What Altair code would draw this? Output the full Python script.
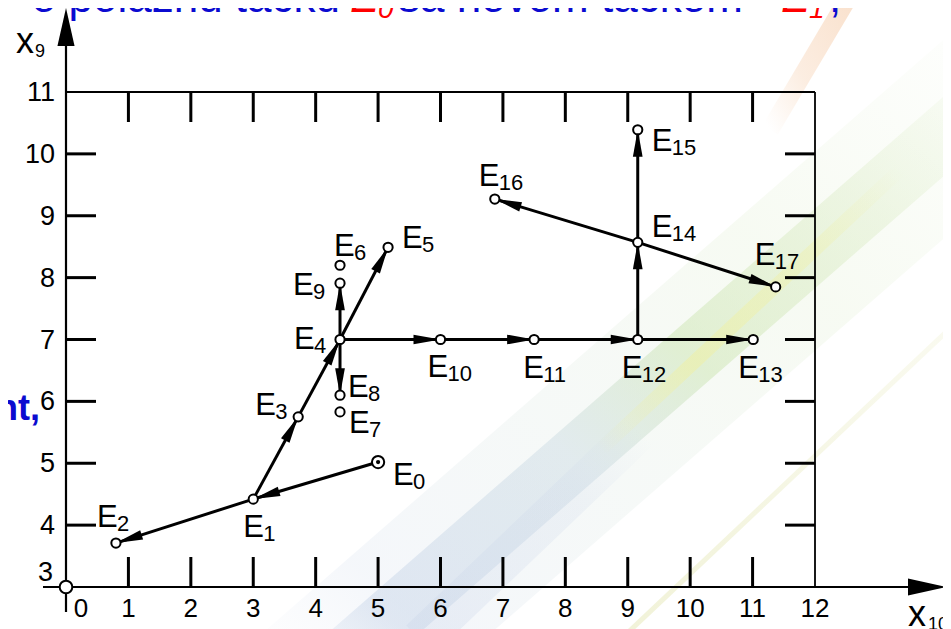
import altair as alt
import pandas as pd

# ---------------- data ----------------
point_names = ["E0", "E1", "E2", "E3", "E4", "E5", "E6", "E7", "E8", "E9",
               "E10", "E11", "E12", "E13", "E14", "E15", "E16", "E17"]
point_sub = ["0", "1", "2", "3", "4", "5", "6", "7", "8", "9",
             "10", "11", "12", "13", "14", "15", "16", "17"]
point_x = [5.0, 3.0, 0.80, 3.72, 4.39, 5.16, 4.39, 4.39, 4.39, 4.39,
           6.0, 7.50, 9.16, 11.01, 9.16, 9.16, 6.87, 11.37]
point_y = [5.02, 4.42, 3.71, 5.75, 7.0, 8.49, 8.20, 5.83, 6.10, 7.91,
           7.0, 7.0, 7.0, 7.0, 8.57, 10.39, 9.27, 7.85]

edge_from = [0, 1, 1, 3, 4, 4, 4, 4, 10, 11, 12, 12, 14, 14, 14]
edge_to = [1, 2, 3, 4, 5, 9, 8, 10, 11, 12, 13, 14, 15, 16, 17]

x_tick_marks = [1, 2, 3, 4, 5, 6, 7, 8, 9, 10, 11]
y_tick_marks = [4, 5, 6, 7, 8, 9, 10]
x_tick_labels = [1, 2, 3, 4, 5, 6, 7, 8, 9, 10, 11, 12]
y_tick_labels = [4, 5, 6, 7, 8, 9, 10, 11]

# label placement (pixels, relative to the point: left edge / baseline of "E")
label_dx = [15, -10, -19, -43, -46, 14, -6, 9, 8, -47, -13, -11, -16, -15, 14, 14, -16, -21]
label_dy = [23, 38, -16, -2, 9, 1, -9, 21, 2, 12, 37, 38, 38, 38, -5, 21, -13, -22]

# ---------------- geometry / style ----------------
W, H = 749, 495
XMIN, XMAX, YMIN, YMAX = 0, 12, 3, 11
FONT = "Liberation Sans"
BLUE = "#0b0bd0"
RED = "#ff0000"
HEAD = "M0,0L0.36,2L-0.36,2Z"
AXHEAD = "M0,0L0.45,2L-0.45,2Z"

xs = alt.Scale(domain=[XMIN, XMAX], nice=False, zero=False)
ys = alt.Scale(domain=[YMIN, YMAX], nice=False, zero=False)


def X(f):
    return alt.X(f, type="quantitative", scale=xs, axis=None)


def Y(f):
    return alt.Y(f, type="quantitative", scale=ys, axis=None)


one = pd.DataFrame({"a": [0]})

pts = pd.DataFrame({"name": point_names, "sub": point_sub, "x": point_x, "y": point_y,
                    "ox": label_dx, "oy": label_dy})
edges = pd.DataFrame({
    "x": [point_x[i] for i in edge_from], "y": [point_y[i] for i in edge_from],
    "x2": [point_x[i] for i in edge_to], "y2": [point_y[i] for i in edge_to],
})

layers = []


# soft background streaks of the slide (decoration), faded with gradients
def gstreak(x1, y1, x2, y2, w, stops, up=True):
    if up:
        g = alt.LinearGradient(gradient="linear", x1=0, y1=1, x2=1, y2=0,
                               stops=[alt.GradientStop(offset=o, color=c) for o, c in stops])
    else:
        g = alt.LinearGradient(gradient="linear", x1=1, y1=0, x2=0, y2=1,
                               stops=[alt.GradientStop(offset=o, color=c) for o, c in stops])
    return alt.Chart(one).mark_rule(strokeWidth=w, stroke=g).encode(
        x=alt.value(x1), y=alt.value(y1), x2=alt.value(x2), y2=alt.value(y2))


layers += [
    gstreak(234, 608, 934, -2, 150, [
        (0.0, "rgba(190,205,228,0)"), (0.15, "rgba(190,205,228,0.16)"),
        (0.45, "rgba(200,220,205,0.16)"), (0.7, "rgba(205,228,178,0.16)"),
        (1.0, "rgba(205,228,178,0.04)")]),
    gstreak(240, 600, 940, -10, 60, [
        (0.0, "rgba(182,200,226,0)"), (0.12, "rgba(182,200,226,0.35)"),
        (0.38, "rgba(188,208,220,0.35)"), (0.55, "rgba(198,226,168,0.45)"),
        (0.8, "rgba(205,228,175,0.28)"), (1.0, "rgba(215,235,190,0.08)")]),
    gstreak(354, 548, 574, 338, 40, [
        (0.0, "rgba(200,212,232,0.30)"), (0.7, "rgba(200,212,232,0.20)"),
        (1.0, "rgba(200,212,232,0)")]),
    gstreak(534, 358, 834, 78, 14, [
        (0.0, "rgba(240,240,160,0)"), (0.3, "rgba(240,240,160,0.5)"),
        (0.7, "rgba(240,240,160,0.35)"), (1.0, "rgba(240,240,160,0)")]),
    gstreak(554, 548, 914, 208, 5, [
        (0.0, "rgba(232,234,190,0.6)"), (1.0, "rgba(232,234,190,0.2)")]),
    gstreak(784, -97, 704, 38, 18, [
        (0.0, "rgba(244,196,156,0.5)"), (0.6, "rgba(244,196,156,0.3)"),
        (1.0, "rgba(244,196,156,0)")], up=False),
]

# frame: top and right lines
layers.append(alt.Chart(one).mark_rule(strokeWidth=1.8, color="black").encode(
    x=alt.value(0), x2=alt.value(W), y=alt.value(0)))
layers.append(alt.Chart(one).mark_rule(strokeWidth=1.8, color="black").encode(
    x=alt.value(W), y=alt.value(0), y2=alt.value(H)))

# ticks
xt = pd.DataFrame({"v": x_tick_marks})
yt = pd.DataFrame({"v": y_tick_marks})
layers.append(alt.Chart(xt).mark_rule(strokeWidth=3, color="black").encode(
    x=X("v"), y=alt.value(H), y2=alt.value(H - 30)))
layers.append(alt.Chart(xt).mark_rule(strokeWidth=3, color="black").encode(
    x=X("v"), y=alt.value(0), y2=alt.value(30)))
layers.append(alt.Chart(yt).mark_rule(strokeWidth=3, color="black").encode(
    y=Y("v"), x=alt.value(0), x2=alt.value(30)))
layers.append(alt.Chart(yt).mark_rule(strokeWidth=3, color="black").encode(
    y=Y("v"), x=alt.value(W), x2=alt.value(W - 30)))

# axes lines with arrows
layers.append(alt.Chart(one).mark_rule(strokeWidth=2.2, color="black").encode(
    x=alt.value(0), y=alt.value(-60), y2=alt.value(520)))
layers.append(alt.Chart(one).mark_rule(strokeWidth=2.2, color="black").encode(
    y=alt.value(H), x=alt.value(-23), x2=alt.value(860)))
layers.append(alt.Chart(one).mark_point(shape=AXHEAD, filled=True, size=1444, color="black",
                                        opacity=1, strokeWidth=0).encode(
    x=alt.value(0), y=alt.value(-84), angle=alt.value(0)))
layers.append(alt.Chart(one).mark_point(shape=AXHEAD, filled=True, size=1444, color="black",
                                        opacity=1, strokeWidth=0).encode(
    x=alt.value(880), y=alt.value(H), angle=alt.value(90)))

# tick labels
layers.append(alt.Chart(pd.DataFrame({"v": x_tick_labels})).mark_text(
    font=FONT, fontSize=26, align="center", baseline="alphabetic", color="black").encode(
    x=X("v"), y=alt.value(525), text="v:N"))
layers.append(alt.Chart(pd.DataFrame({"v": [0]})).mark_text(
    font=FONT, fontSize=26, align="center", baseline="alphabetic", color="black", dx=15).encode(
    x=X("v"), y=alt.value(525), text="v:N"))
layers.append(alt.Chart(pd.DataFrame({"v": y_tick_labels})).mark_text(
    font=FONT, fontSize=27, align="right", baseline="middle", color="black", dy=1).encode(
    x=alt.value(-11), y=Y("v"), text="v:N"))
layers.append(alt.Chart(pd.DataFrame({"v": [3]})).mark_text(
    font=FONT, fontSize=27, align="right", baseline="middle", color="black", dy=-14).encode(
    x=alt.value(-13), y=Y("v"), text="v:N"))

# axis names
layers.append(alt.Chart(one).mark_text(font=FONT, fontSize=36, align="left", baseline="alphabetic",
                                       color="black").encode(
    x=alt.value(-50), y=alt.value(-39), text=alt.value("x")))
layers.append(alt.Chart(one).mark_text(font=FONT, fontSize=18, align="left", baseline="alphabetic",
                                       color="black").encode(
    x=alt.value(-31), y=alt.value(-35), text=alt.value("9")))
layers.append(alt.Chart(one).mark_text(font=FONT, fontSize=36, align="left", baseline="alphabetic",
                                       color="black").encode(
    x=alt.value(842), y=alt.value(534), text=alt.value("x")))
layers.append(alt.Chart(one).mark_text(font=FONT, fontSize=18, align="left", baseline="alphabetic",
                                       color="black").encode(
    x=alt.value(862), y=alt.value(538), text=alt.value("10")))

# search path segments
layers.append(alt.Chart(edges).mark_rule(strokeWidth=3, color="black").encode(
    x=X("x"), y=Y("y"), x2="x2:Q", y2="y2:Q"))

# arrow heads
ang_expr = f"(atan2((datum.x2-datum.x)*{W/(XMAX-XMIN)}, (datum.y2-datum.y)*{H/(YMAX-YMIN)})*180/PI + 360) % 360"
layers.append(alt.Chart(edges).transform_calculate(ang=ang_expr).mark_point(
    shape=HEAD, filled=True, size=729, color="black", opacity=1, strokeWidth=0).encode(
    x=X("x2"), y=Y("y2"), angle=alt.Angle("ang:Q", scale=None)))

# origin circle
layers.append(alt.Chart(pd.DataFrame({"x": [0], "y": [3]})).mark_point(
    shape="circle", size=160, fill="white", stroke="black", strokeWidth=2, opacity=1, filled=True).encode(
    x=X("x"), y=Y("y")))

# points
layers.append(alt.Chart(pts).transform_filter("datum.name != 'E0'").mark_point(
    shape="circle", size=85, fill="white", stroke="black", strokeWidth=2, opacity=1, filled=True).encode(
    x=X("x"), y=Y("y")))
layers.append(alt.Chart(pts).transform_filter("datum.name == 'E0'").mark_point(
    shape="circle", size=150, fill="white", stroke="black", strokeWidth=2, opacity=1, filled=True).encode(
    x=X("x"), y=Y("y")))
layers.append(alt.Chart(pts).transform_filter("datum.name == 'E0'").mark_point(
    shape="circle", size=18, fill="black", stroke="black", strokeWidth=0, opacity=1, filled=True).encode(
    x=X("x"), y=Y("y")))

# point labels E with subscript
kx = (XMAX - XMIN) / W
ky = (YMAX - YMIN) / H
layers.append(alt.Chart(pts).transform_calculate(
    lx=f"datum.x + datum.ox*{kx}", ly=f"datum.y - datum.oy*{ky}").mark_text(
    font=FONT, fontSize=31, align="left", baseline="alphabetic", color="black").encode(
    x=X("lx"), y=Y("ly"), text=alt.value("E")))
layers.append(alt.Chart(pts).transform_calculate(
    lx=f"datum.x + (datum.ox+20)*{kx}", ly=f"datum.y - (datum.oy+4)*{ky}").mark_text(
    font=FONT, fontSize=22, align="left", baseline="alphabetic", color="black").encode(
    x=X("lx"), y=Y("ly"), text="sub:N"))


# fragments of the slide text around the figure
def txt(x, y, s, size, color, align="left", style="normal", weight="normal"):
    return alt.Chart(one).mark_text(font=FONT, fontSize=size, align=align, baseline="alphabetic",
                                    color=color, fontStyle=style, fontWeight=weight).encode(
        x=alt.value(x), y=alt.value(y), text=alt.value(s))


layers += [
    txt(274, -80, "o polaznu tačku", 44, BLUE, align="right"),
    txt(284, -80, "E", 44, RED, style="italic"),
    txt(312, -74, "0", 28, RED, style="italic"),
    txt(332, -80, "sa novom tačkom", 44, BLUE),
    txt(715, -80, "E", 44, RED, style="italic"),
    txt(743, -74, "1", 28, RED, style="italic"),
    txt(763, -80, ",", 44, BLUE),
    txt(-26, 328, "nt,", 36, BLUE, align="right", weight="bold"),
]

chart = alt.layer(*layers).properties(
    width=W, height=H,
    padding={"left": 58, "top": 84, "right": 128, "bottom": 42},
    autosize=alt.AutoSizeParams(type="none"),
    background="white",
).configure_view(strokeWidth=0)

chart.save("out.html", embed_options={"renderer": "svg", "actions": False})
